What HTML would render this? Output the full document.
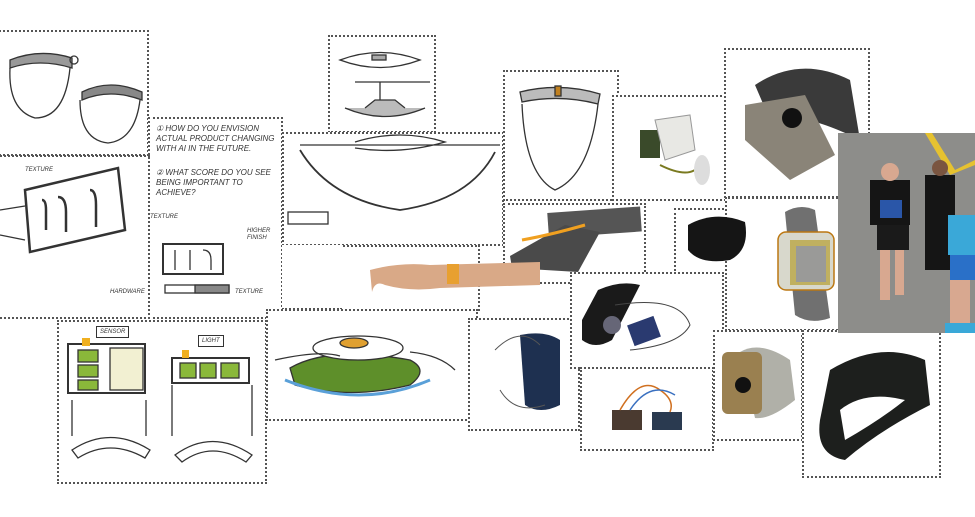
<!DOCTYPE html>
<html><head><meta charset="utf-8"><style>
html,body{margin:0;padding:0;background:#fff;}
#c{position:relative;width:975px;height:517px;overflow:hidden;background:#fff;font-family:"Liberation Sans",sans-serif;}
.b{position:absolute;border:2px dotted #555;box-sizing:border-box;background:#fff;}
svg{position:absolute;left:0;top:0;}
.t{position:absolute;font-family:"Liberation Sans",sans-serif;font-style:italic;color:#333;font-size:8px;line-height:10px;}
</style></head><body><div id="c">
<div class="b" style="left:-4px;top:30px;width:153px;height:126px;border-left:none"></div>
<div class="b" style="left:148px;top:117px;width:135px;height:202px"></div>
<div class="b" style="left:-4px;top:155px;width:154px;height:164px;border-left:none;border-top:2px dotted #555;border-right:none;background:transparent"></div>
<div class="b" style="left:328px;top:35px;width:108px;height:98px"></div>
<div class="b" style="left:282px;top:132px;width:222px;height:114px"></div>
<div class="b" style="left:340px;top:245px;width:140px;height:66px"></div>
<div class="b" style="left:282px;top:245px;width:60px;height:65px;border-left:none;border-right:none;border-top:none"></div>
<div class="b" style="left:57px;top:320px;width:210px;height:164px"></div>
<div class="b" style="left:266px;top:309px;width:212px;height:112px"></div>
<div class="b" style="left:468px;top:318px;width:112px;height:113px"></div>
<div class="b" style="left:503px;top:70px;width:116px;height:131px"></div>
<div class="b" style="left:612px;top:95px;width:114px;height:106px"></div>
<div class="b" style="left:724px;top:48px;width:146px;height:150px"></div>
<div class="b" style="left:503px;top:203px;width:143px;height:81px"></div>
<div class="b" style="left:674px;top:208px;width:90px;height:71px"></div>
<div class="b" style="left:725px;top:197px;width:136px;height:134px;border-right:none"></div>
<div class="b" style="left:570px;top:272px;width:154px;height:97px"></div>
<div class="b" style="left:580px;top:367px;width:134px;height:84px"></div>
<div class="b" style="left:713px;top:330px;width:90px;height:111px"></div>
<div class="b" style="left:802px;top:330px;width:139px;height:148px"></div>

<svg width="975" height="517" viewBox="0 0 975 517">
<g fill="none" stroke="#333" stroke-width="1.3">
 <path d="M10 60 Q40 48 72 58 L72 68 Q40 58 10 68 Z" fill="#999"/>
 <path d="M10 68 Q8 110 35 118 Q65 118 70 68"/>
 <circle cx="74" cy="60" r="4"/>
 <path d="M82 92 Q110 78 142 92 L142 100 Q110 88 82 100 Z" fill="#888"/>
 <path d="M80 100 Q80 140 108 143 Q135 140 140 100"/>
 <path d="M0 210 L25 206 M0 235 L25 240"/>
 <path d="M25 190 L118 168 L125 230 L30 252 Z" stroke-width="2.5"/>
 <path d="M42 200 q4 0 4 10 v20 M58 197 q8 0 8 15 v20 M90 190 q6 0 6 15 v22" stroke-width="2.5"/>
 <rect x="163" y="244" width="60" height="30" stroke-width="2"/>
 <path d="M175 250 v20 M190 250 v20 M203 250 q8 0 8 10 v10"/>
 <rect x="165" y="285" width="64" height="8"/>
 <rect x="195" y="285" width="34" height="8" fill="#888"/>
 <path d="M340 60 Q380 45 420 60 Q380 75 340 60 Z"/><rect x="372" y="55" width="14" height="5" fill="#aaa"/>
 <path d="M355 82 L430 82 M380 82 V105"/>
 <path d="M345 108 Q385 125 425 108 M365 108 L375 100 L395 100 L405 108" fill="#bbb"/>
 <path d="M300 145 L500 145 M355 142 Q400 128 445 142 Q400 155 355 148" />
 <path d="M300 150 Q330 200 400 210 Q470 200 495 152" stroke-width="1.8"/>
 <rect x="288" y="212" width="40" height="12"/>
 <rect x="68" y="344" width="77" height="49" stroke-width="2"/>
 <rect x="78" y="350" width="20" height="12" fill="#8ab83a"/><rect x="78" y="365" width="20" height="12" fill="#8ab83a"/><rect x="78" y="380" width="20" height="10" fill="#8ab83a"/>
 <rect x="110" y="348" width="33" height="42" fill="#f2f0d2"/>
 <rect x="82" y="338" width="8" height="8" fill="#f0b020" stroke="none"/>
 <rect x="172" y="358" width="77" height="25" stroke-width="2"/>
 <rect x="180" y="363" width="16" height="15" fill="#8ab83a"/><rect x="200" y="363" width="16" height="15" fill="#8ab83a"/><rect x="221" y="363" width="18" height="15" fill="#8ab83a"/>
 <rect x="182" y="350" width="7" height="8" fill="#f0b020" stroke="none"/>
 <path d="M72 450 Q110 425 150 450 L145 458 Q110 438 78 458 Z"/>
 <path d="M175 455 Q212 428 252 455 L246 462 Q212 440 182 462 Z"/>
 <path d="M72 400 V436 M146 400 V436 M172 385 V436 M252 385 V436"/>
 <path d="M290 368 Q330 345 410 360 Q430 370 410 385 Q350 400 295 385 Z" fill="#5e8f2a"/>
 <path d="M285 380 Q360 410 430 380" stroke="#5aa0d8" stroke-width="3"/>
 <ellipse cx="358" cy="348" rx="45" ry="12" fill="#fff"/>
 <ellipse cx="354" cy="343" rx="14" ry="5" fill="#e0a030"/>
 <path d="M275 360 Q320 350 340 356 M410 352 Q440 355 455 370"/>
 <path d="M520 92 Q560 82 600 94 L598 104 Q560 94 522 102 Z" fill="#bbb"/>
 <rect x="555" y="86" width="6" height="10" fill="#c08020"/>
 <path d="M522 104 Q525 175 555 190 Q590 175 598 104"/>
</g>
<rect x="640" y="130" width="20" height="28" fill="#3a4a2a"/>
<path d="M655 120 L690 115 L695 150 L665 160 Z" fill="#e8e8e4" stroke="#999"/>
<path d="M660 165 Q690 180 700 165" stroke="#7a7a20" stroke-width="2" fill="none"/>
<ellipse cx="702" cy="170" rx="8" ry="15" fill="#ddd"/>
<path d="M755 85 Q800 55 850 80 L860 140 Q800 110 770 120 Z" fill="#3a3a3a"/>
<path d="M745 105 L805 95 L835 155 L790 180 L745 140 Z" fill="#8a8478"/>
<circle cx="792" cy="118" r="10" fill="#111"/>
<rect x="548" y="210" width="93" height="25" fill="#555" transform="rotate(-4 590 222)"/>
<path d="M510 256 L565 225 L600 232 L578 272 L512 268 Z" fill="#4a4a4a"/>
<path d="M522 240 Q550 235 585 225" stroke="#f0a020" stroke-width="3" fill="none"/>
<path d="M370 270 Q400 262 430 265 L540 262 L540 285 L440 288 Q410 292 385 285 Q375 280 372 292 Z" fill="#d9a987"/>
<rect x="447" y="264" width="12" height="20" fill="#e8a030"/>
<path d="M688 225 Q715 210 745 222 Q750 250 730 260 Q700 265 688 250 Z" fill="#151515"/>
<rect x="838" y="133" width="137" height="200" fill="#8d8d8a"/>
<path d="M925 133 L950 175 L975 165 L975 160 L955 170 L932 133 Z" fill="#e6c230"/>
<rect x="870" y="180" width="40" height="45" fill="#151515"/><circle cx="890" cy="172" r="9" fill="#d8a890"/>
<rect x="880" y="200" width="22" height="18" fill="#2a56a8"/>
<rect x="877" y="225" width="32" height="25" fill="#1a1a1a"/>
<rect x="880" y="250" width="10" height="50" fill="#d8a890"/><rect x="895" y="250" width="9" height="45" fill="#d8a890"/>
<rect x="925" y="175" width="30" height="95" fill="#151515"/><circle cx="940" cy="168" r="8" fill="#7a5540"/>
<rect x="948" y="215" width="27" height="40" fill="#3aa8d8"/><rect x="950" y="255" width="25" height="25" fill="#2a70c8"/>
<rect x="950" y="280" width="20" height="45" fill="#d8a890"/>
<rect x="945" y="323" width="30" height="10" fill="#3aa8d8"/>
<path d="M785 212 Q800 203 815 210 L830 318 Q810 325 795 315 Z" fill="#707070"/>
<rect x="778" y="232" width="56" height="58" rx="8" fill="#d8d8cc" stroke="#b71" stroke-width="1.5"/>
<rect x="790" y="240" width="40" height="45" fill="#c0b060"/><rect x="796" y="246" width="30" height="36" fill="#9a9a98"/>
<path d="M582 320 L598 290 Q620 280 640 285 L612 340 Q595 350 582 340 Z" fill="#1a1a1a"/>
<rect x="630" y="320" width="28" height="22" fill="#2a3a70" transform="rotate(-20 644 331)"/>
<circle cx="612" cy="325" r="9" fill="#667"/>
<path d="M615 305 Q680 295 690 325 Q680 345 630 350" stroke="#444" fill="none"/>
<path d="M520 335 Q545 330 560 340 L560 405 Q540 415 525 405 Z" fill="#1e3050"/>
<path d="M495 350 Q520 325 540 345 M500 390 Q515 415 545 405" stroke="#555" fill="none"/>
<rect x="612" y="410" width="30" height="20" fill="#4a3a30"/><rect x="652" y="412" width="30" height="18" fill="#2a3a50"/>
<path d="M620 410 Q640 375 660 390 Q675 400 670 412" stroke="#d07020" fill="none" stroke-width="1.5"/>
<path d="M630 410 Q650 380 675 395" stroke="#3a70c0" fill="none" stroke-width="1.5"/>
<path d="M740 352 Q760 340 790 360 L795 400 Q770 420 755 418 Z" fill="#b0b0a8"/>
<rect x="722" y="352" width="40" height="62" rx="6" fill="#9a8050"/>
<circle cx="743" cy="385" r="8" fill="#111"/>
<path d="M830 370 Q880 340 925 360 L930 405 Q880 430 845 460 Q815 455 820 420 Z" fill="#1d1f1d"/>
<path d="M840 410 Q865 390 905 400 Q880 420 845 440 Z" fill="#fff"/>
</svg>
<div class="t" style="left:156px;top:124px;width:122px">① HOW DO YOU ENVISION ACTUAL PRODUCT CHANGING WITH AI IN THE FUTURE.</div>
<div class="t" style="left:156px;top:168px;width:122px">② WHAT SCORE DO YOU SEE BEING IMPORTANT TO ACHIEVE?</div>
<div class="t" style="left:247px;top:228px;font-size:6px;line-height:7px">HIGHER<br>FINISH</div>
<div class="t" style="left:25px;top:165px;font-size:6px">TEXTURE</div>
<div class="t" style="left:150px;top:212px;font-size:6px">TEXTURE</div>
<div class="t" style="left:110px;top:287px;font-size:6px">HARDWARE</div>
<div class="t" style="left:235px;top:287px;font-size:6px">TEXTURE</div>
<div class="t" style="left:96px;top:326px;font-size:6px;border:1px solid #333;padding:0 3px">SENSOR</div>
<div class="t" style="left:198px;top:335px;font-size:6px;border:1px solid #333;padding:0 3px">LIGHT</div>
</div></body></html>
